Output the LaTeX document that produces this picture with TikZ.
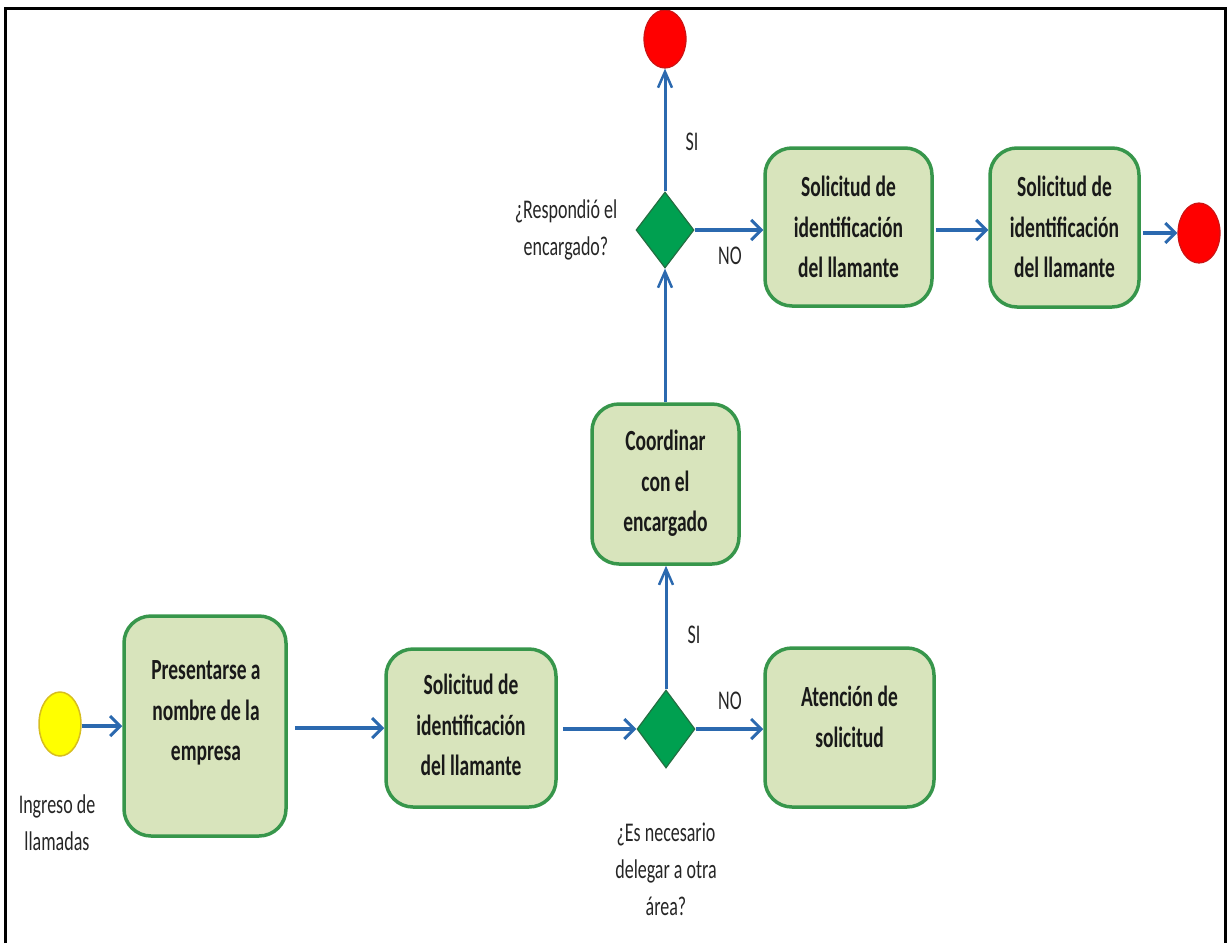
\documentclass[tikz,border=0pt]{standalone}
\usepackage{fontspec}
\setmainfont{Carlito}
\usepackage{graphicx}
\usetikzlibrary{shapes.geometric,arrows.meta}
\definecolor{boxfill}{RGB}{216,228,188}
\definecolor{boxline}{RGB}{55,150,75}
\definecolor{arrowblue}{RGB}{43,105,175}
\definecolor{dfill}{RGB}{0,160,80}
\definecolor{dline}{RGB}{35,110,65}
\definecolor{yfill}{RGB}{255,255,0}
\definecolor{yline}{RGB}{215,190,30}
\definecolor{rfill}{RGB}{255,0,0}
\definecolor{rline}{RGB}{205,20,20}
\newcommand{\vst}[1]{\scalebox{1}[1.5]{\begin{tabular}{@{}c@{}}#1\end{tabular}}}
\tikzset{
  procbox/.style={draw=boxline, line width=3.5pt, fill=boxfill, rounded corners=27pt, inner sep=0pt},
  boxtext/.style={font=\fontsize{19.5}{27}\selectfont\bfseries, text=black!90, inner sep=0pt},
  lbl/.style={font=\fontsize{18}{24.5}\selectfont, text=black!85, inner sep=0pt},
  decision/.style={diamond, draw=dline, line width=1.2pt, fill=dfill, inner sep=0pt},
  startnode/.style={ellipse, draw=yline, line width=1.5pt, fill=yfill, inner sep=0pt},
  endnode/.style={ellipse, draw=rline, line width=1.2pt, fill=rfill, inner sep=0pt},
  harr/.style={draw=arrowblue, line width=4pt, -{Straight Barb[length=10pt,width=20pt,line width=3pt]}},
  varr/.style={draw=arrowblue, line width=3pt, -{Straight Barb[length=16pt,width=14pt,line width=2.5pt]}},
}
\begin{document}
\begin{tikzpicture}[x=1pt,y=-1pt]
\useasboundingbox (0,0) rectangle (1228,943);
% nodes
\node[startnode, minimum width=42pt, minimum height=64pt] (st) at (60,724) {};
\node[lbl] (stl) at (57,825) {\vst{Ingreso de\\llamadas}};

\node[procbox, minimum width=162pt, minimum height=220pt] (b1) at (205,726) {};
\node[boxtext] (b1t) at (206,712) {\vst{Presentarse a\\nombre de la\\empresa}};

\node[procbox, minimum width=170pt, minimum height=158pt] (b2) at (471,728) {};
\node[boxtext] (b2t) at (471,727) {\vst{Solicitud de\\identificación\\del llamante}};

\node[decision, minimum width=58pt, minimum height=78pt] (d1) at (666,729) {};
\node[lbl] (d1l) at (666,871) {\vst{¿Es necesario\\delegar a otra\\área?}};
\node[lbl] (si1) at (694,636) {\vst{SI}};
\node[lbl] (no1) at (730,702) {\vst{NO}};

\node[procbox, minimum width=169pt, minimum height=159pt] (b5) at (849.5,727.5) {};
\node[boxtext] (b5t) at (849.5,719) {\vst{Atención de\\solicitud}};

\node[procbox, minimum width=147pt, minimum height=160pt] (bc) at (665.5,484) {};
\node[boxtext] (bct) at (665.5,483) {\vst{Coordinar\\con el\\encargado}};

\node[decision, minimum width=58pt, minimum height=76pt] (d2) at (665,230) {};
\node[lbl] (d2l) at (566,230) {\vst{¿Respondió el\\encargado?}};
\node[lbl] (si2) at (692,143) {\vst{SI}};
\node[lbl] (no2) at (730,257) {\vst{NO}};

\node[endnode, minimum width=42pt, minimum height=58pt] (rt) at (665,39) {};

\node[procbox, minimum width=167pt, minimum height=158pt] (b3) at (848.5,227) {};
\node[boxtext] (b3t) at (848.5,229) {\vst{Solicitud de\\identificación\\del llamante}};

\node[procbox, minimum width=149pt, minimum height=159pt] (b4) at (1064.5,227.5) {};
\node[boxtext] (b4t) at (1064.5,229) {\vst{Solicitud de\\identificación\\del llamante}};

\node[endnode, minimum width=42pt, minimum height=60pt] (rr) at (1199,233) {};

% connectors
\draw[harr] (st.east |- b1.west) -- (b1.west);
\draw[harr, shorten <=7pt] (b1.east |- b2.west) -- (b2.west);
\draw[harr, shorten <=5pt] (b2.east |- d1.west) -- (d1.west);
\draw[harr] (d1.east) -- (d1.east -| b5.west);
\draw[varr] (d1.north) -- (d1.north |- bc.south);
\draw[varr] (bc.north -| d2.south) -- (d2.south);
\draw[varr] (d2.north) -- (d2.north |- rt.south);
\draw[harr] (d2.east) -- (d2.east -| b3.west);
\draw[harr, shorten <=2pt] (b3.east |- d2.east) -- (b4.west |- d2.east);
\draw[harr, shorten <=2pt] (b4.east |- rr.west) -- (rr.west);

% frame
\draw[line width=3pt, line join=miter] (5.5,943) -- (5.5,8.5) -- (1225,8.5) -- (1225,943);
\end{tikzpicture}
\end{document}
